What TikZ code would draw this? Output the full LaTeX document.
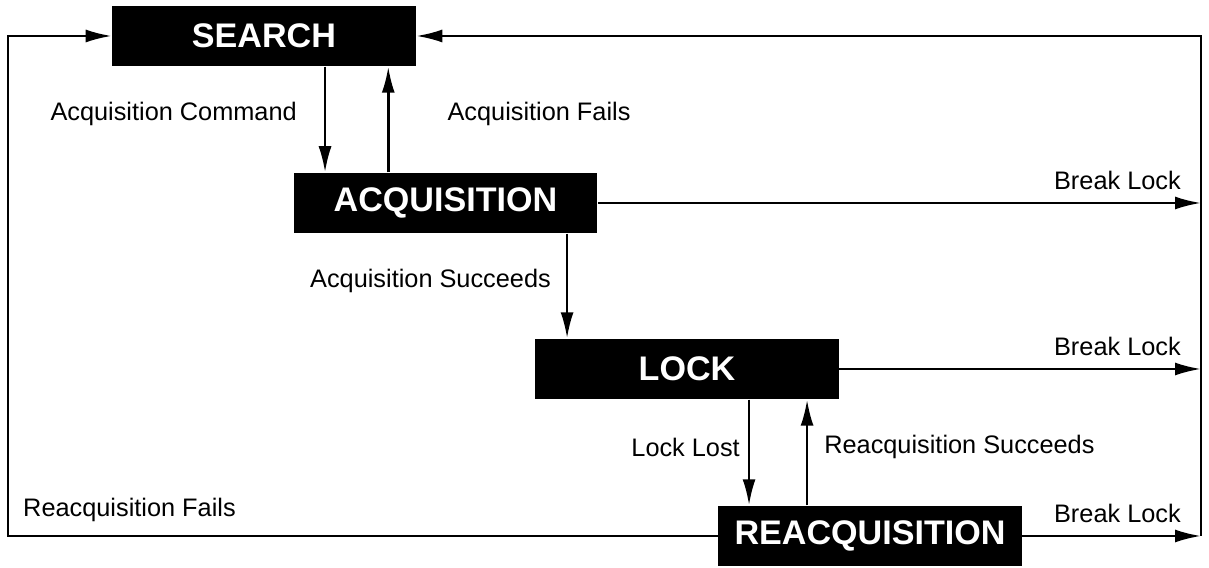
\documentclass[tikz,border=0pt]{standalone}
\usepackage{fontspec}
\setmainfont{Liberation Sans}
\usetikzlibrary{positioning,arrows.meta}
\tikzset{
  state/.style = {rectangle, fill=black, text=white, inner sep=0pt,
                  minimum width=3.03cm, minimum height=0.6cm,
                  font=\fontsize{9.7}{11}\selectfont\bfseries},
  arr/.style   = {-{Latex[length=2.6mm,width=1.3mm]}, line width=0.7pt},
  lab/.style   = {font=\fontsize{7.2}{8.6}\selectfont, inner sep=0pt}
}

\begin{document}
\begin{tikzpicture}[x=0.01cm,y=-0.01cm]
    \useasboundingbox (0,0) rectangle (1209,568);
    \node[state] (search) at (264,36) {SEARCH};
    \node[state] (acq) at (445.5,203) {ACQUISITION};
    \node[state] (lock) at (687,369) {LOCK};
    \node[state] (reacq) at (870,536) {REACQUISITION};
    \coordinate (lrail) at (8,36);
    \coordinate (rrail) at (1201,36);
    % down and up between the states
    \draw[arr] ([xshift=0.61cm]search.south) -- node[lab,pos=.45,left=0.27cm]{Acquisition Command} ([xshift=0.61cm]search.south |- acq.north);
    \draw[arr] ([xshift=-0.28cm]search.south east |- acq.north) -- node[lab,pos=.55,right=0.58cm]{Acquisition Fails} ([xshift=-0.28cm]search.south east);
    \draw[arr] ([xshift=1.215cm]acq.south) -- node[lab,pos=.45,left=0.15cm]{Acquisition Succeeds} ([xshift=1.215cm]acq.south |- lock.north);
    \draw[arr] ([xshift=0.62cm]lock.south) -- node[lab,pos=.45,left=0.08cm]{Lock Lost} ([xshift=0.62cm]lock.south |- reacq.north);
    \draw[arr] ([xshift=1.2cm]lock.south |- reacq.north) -- node[lab,pos=.55,right=0.16cm]{Reacquisition Succeeds} ([xshift=1.2cm]lock.south);
    % break lock to the right rail
    \draw[arr] (acq.east) -- node[lab,pos=1,above left=0.12cm and 0.19cm]{Break Lock} (acq.east -| rrail);
    \draw[arr] (lock.east) -- node[lab,pos=1,above left=0.12cm and 0.19cm]{Break Lock} (lock.east -| rrail);
    \draw[arr] (reacq.east) -- node[lab,pos=1,above left=0.12cm and 0.19cm]{Break Lock} (reacq.east -| rrail);
    \draw[arr] (reacq.east -| rrail) -- (rrail) -- (search.east);
    % back to search on the left
    \draw[arr] (reacq.west) -| node[lab,pos=.5,above right=0.13cm and 0.14cm]{Reacquisition Fails} (lrail) -- (search.west);
\end{tikzpicture}
\end{document}
